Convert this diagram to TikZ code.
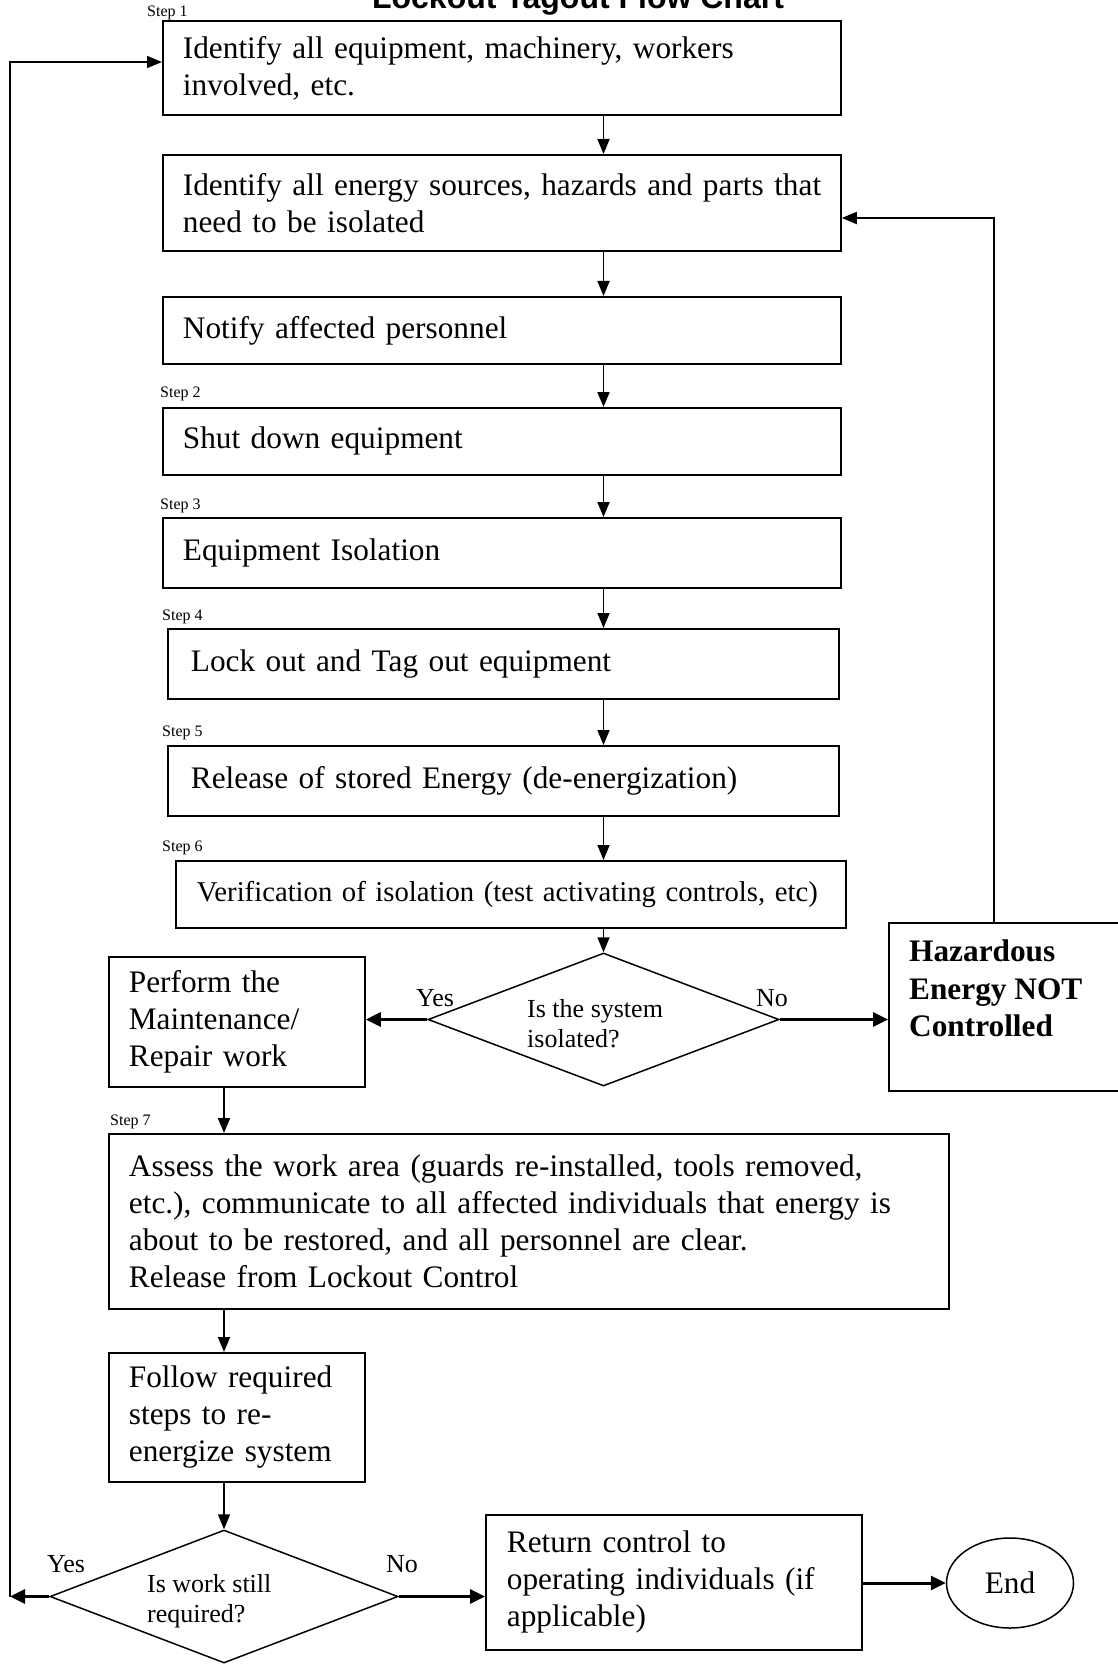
\documentclass[tikz,border=0pt]{standalone}
\usepackage{fontspec}
\setmainfont{Liberation Serif}
\newfontfamily\titlefont{Liberation Sans}
\usetikzlibrary{arrows.meta,shapes.geometric}
\begin{document}
\begin{tikzpicture}[x=1pt,y=-1pt,
  box/.style={draw, line width=1.8pt, anchor=north west, inner ysep=0pt, align=left, font=\fontsize{31.3}{37}\selectfont},
  steplbl/.style={anchor=base west, inner sep=0pt, font=\fontsize{16}{18}\selectfont},
  dec/.style={draw, shape=diamond, line width=1.5pt, inner sep=0pt},
  dtext/.style={anchor=north west, inner sep=0pt, align=left, font=\fontsize{26}{30}\selectfont},
  yn/.style={anchor=base west, inner sep=0pt, font=\fontsize{26}{30}\selectfont},
  arr/.style={line width=1.8pt, -{Triangle[length=15pt,width=12pt]}},
  thickarr/.style={line width=3pt, -{Triangle[length=15pt,width=14pt]}}
]
\useasboundingbox (0,0) rectangle (1118,1669);

\node[anchor=base, inner sep=0pt, font=\titlefont\bfseries\fontsize{32}{36}\selectfont] (title) at (578,9) {Lockout Tagout Flow Chart};

\node[steplbl] (s1) at (147,17) {Step 1};
\node[box, minimum width=678pt, minimum height=94pt, inner xsep=20pt, text width=638pt] (b1) at (162,20) {\mbox{Identify all equipment, machinery, workers}\\involved, etc.};
\node[box, minimum width=678pt, minimum height=96pt, inner xsep=20pt, text width=638pt] (b2) at (162,154) {\mbox{Identify all energy sources, hazards and parts that}\\need to be isolated};
\node[box, minimum width=678pt, minimum height=67pt, inner xsep=20pt, text width=638pt] (b3) at (162,296) {Notify affected personnel};
\node[steplbl] (s2) at (160,397) {Step 2};
\node[box, minimum width=678pt, minimum height=67pt, inner xsep=20pt, text width=638pt] (b4) at (162,407) {Shut down equipment};
\node[steplbl] (s3) at (160,509) {Step 3};
\node[box, minimum width=678pt, minimum height=70pt, inner xsep=20pt, text width=638pt] (b5) at (162,517) {Equipment Isolation};
\node[steplbl] (s4) at (162,620) {Step 4};
\node[box, minimum width=671pt, minimum height=70pt, inner xsep=23pt, text width=625pt] (b6) at (167,628) {Lock out and Tag out equipment};
\node[steplbl] (s5) at (162,736) {Step 5};
\node[box, minimum width=671pt, minimum height=70pt, inner xsep=23pt, text width=625pt] (b7) at (167,745) {Release of stored Energy (de-energization)};
\node[steplbl] (s6) at (162,851) {Step 6};
\node[box, minimum width=670pt, minimum height=67pt, inner xsep=21pt, text width=628pt, font=\fontsize{28.7}{34}\selectfont] (b8) at (175,860) {\raisebox{4pt}{\mbox{Verification of isolation (test activating controls, etc)}}};

\node[dec, minimum width=351pt, minimum height=133pt] (d1) at (603.5,1019.5) {};
\node[dtext] (d1t) at (527,999) {Is the system\\isolated?};
\node[yn] (y1) at (416,1006) {Yes};
\node[yn] (n1) at (756,1006) {No};

\node[box, minimum width=256pt, minimum height=130pt, inner xsep=20pt, text width=216pt] (perf) at (108,956) {Perform the\\Maintenance/\\Repair work};
\node[draw, line width=1.8pt, anchor=north west, minimum width=250pt, minimum height=168pt, inner sep=0pt] (haz) at (888,922) {};
\node[anchor=north west, inner sep=0pt, align=left, font=\bfseries\fontsize{31.3}{37.5}\selectfont] (hazt) at (909,940) {Hazardous\\Energy NOT\\Controlled};

\node[steplbl] (s7) at (110,1125) {Step 7};
\node[box, minimum width=840pt, minimum height=175pt, inner xsep=20pt, text width=800pt] (asm) at (108,1133) {Assess the work area (guards re-installed, tools removed,\\\mbox{etc.), communicate to all affected individuals that energy is}\\about to be restored, and all personnel are clear.\\Release from Lockout Control};
\node[box, minimum width=256pt, minimum height=129pt, inner xsep=20pt, text width=216pt] (fol) at (108,1352) {Follow required\\steps to re-\\\mbox{energize system}};

\node[dec, minimum width=348pt, minimum height=133pt] (d2) at (224,1596.5) {};
\node[dtext] (d2t) at (147,1574) {Is work still\\required?};
\node[yn] (y2) at (47,1572) {Yes};
\node[yn] (n2) at (386,1572) {No};

\node[box, minimum width=376pt, minimum height=135pt, inner xsep=21pt, text width=334pt] (ret) at (485,1514) {Return control to\\\mbox{operating individuals (if}\\applicable)};
\node[draw, ellipse, line width=1.5pt, minimum width=127pt, minimum height=90pt, inner sep=0pt, font=\fontsize{31.3}{37}\selectfont] (endn) at (1010,1583) {End};

\coordinate (hx) at (994,218);
\coordinate (lb) at (10,1596.5);
\coordinate (lt) at (10,62);

\draw[arr] (b1.south -| d1.north) -- (b2.north -| d1.north);
\draw[arr] (b2.south -| d1.north) -- (b3.north -| d1.north);
\draw[arr] (b3.south -| d1.north) -- (b4.north -| d1.north);
\draw[arr] (b4.south -| d1.north) -- (b5.north -| d1.north);
\draw[arr] (b5.south -| d1.north) -- (b6.north -| d1.north);
\draw[arr] (b6.south -| d1.north) -- (b7.north -| d1.north);
\draw[arr] (b7.south -| d1.north) -- (b8.north -| d1.north);
\draw[arr] (b8.south -| d1.north) -- (d1.north);
\draw[thickarr] (d1.west) -- (d1.west -| perf.east);
\draw[thickarr] (d1.east) -- (d1.east -| haz.west);
\draw[arr] (haz.north -| hx) -- (hx) -- (hx -| b2.east);
\draw[arr] (perf.south -| d2.north) -- (asm.north -| d2.north);
\draw[arr] (asm.south -| d2.north) -- (fol.north -| d2.north);
\draw[arr] (fol.south -| d2.north) -- (d2.north);
\draw[thickarr] (d2.west) -- (lb);
\draw[arr] (lb) -- (lt) -- (lt -| b1.west);
\draw[thickarr] (d2.east) -- (d2.east -| ret.west);
\draw[thickarr] (ret.east |- endn.west) -- (endn.west);
\end{tikzpicture}
\end{document}
